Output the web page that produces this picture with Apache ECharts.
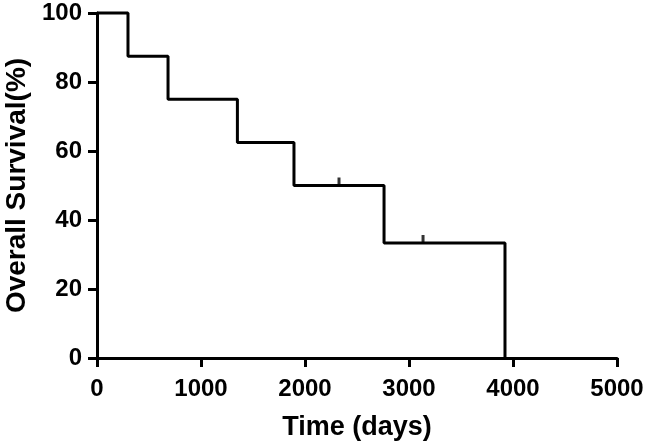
<!DOCTYPE html>
<html><head><meta charset="utf-8">
<script src="https://cdn.jsdelivr.net/npm/echarts@6/dist/echarts.min.js"></script>
<style>html,body{margin:0;padding:0;background:#fff}#c{width:646px;height:447px}</style>
</head><body><div id="c"></div>
<script>
// Kaplan-Meier step points: time (days) and survival (%) after each event
const eventTimes = [0, 298, 683, 1350, 1894, 2760, 3923];
const survival = [100, 87.5, 75, 62.5, 50, 33.33, 0];
// censored observations
const censorTimes = [2327, 3135];
const censorSurvival = [50, 33.33];
const xTicks = [0, 1000, 2000, 3000, 4000, 5000];
const yTicks = [0, 20, 40, 60, 80, 100];

const font = '"Liberation Sans", Arial, Helvetica, sans-serif';
const chart = echarts.init(document.getElementById('c'), null, {renderer: 'canvas'});
const axisCommon = {
  axisLine: {show: true, lineStyle: {color: '#000', width: 3}},
  axisTick: {show: true, length: 9, lineStyle: {color: '#000', width: 3}},
  splitLine: {show: false},
  nameTextStyle: {color: '#000', fontWeight: 'bold', fontFamily: font}
};
const labelStyle = {color: '#000', fontWeight: 'bold', fontSize: 24, fontFamily: font,
  formatter: v => String(v)};
chart.setOption({
  animation: false,
  backgroundColor: '#fff',
  grid: {left: 97, right: 29, top: 13, bottom: 89, containLabel: false, outerBoundsMode: 'none'},
  xAxis: Object.assign({}, axisCommon, {
    type: 'value', min: xTicks[0], max: xTicks[xTicks.length - 1], interval: 1000,
    name: 'Time (days)', nameLocation: 'middle', nameGap: 56,
    nameTextStyle: Object.assign({}, axisCommon.nameTextStyle, {fontSize: 27}),
    axisLabel: Object.assign({}, labelStyle, {margin: 19})
  }),
  yAxis: Object.assign({}, axisCommon, {
    type: 'value', min: yTicks[0], max: yTicks[yTicks.length - 1], interval: 20,
    name: 'Overall Survival(%)', nameLocation: 'middle', nameGap: 66,
    nameTextStyle: Object.assign({}, axisCommon.nameTextStyle, {fontSize: 28}),
    axisLabel: Object.assign({}, labelStyle, {margin: 15})
  }),
  series: [
    {
      type: 'line', step: 'end', clip: false, showSymbol: false, symbol: 'none',
      lineStyle: {color: '#000', width: 3},
      data: eventTimes.map((t, i) => [t, survival[i]])
    },
    {
      type: 'scatter', clip: false, symbol: 'rect', symbolSize: [3, 8], symbolOffset: [0, -4],
      itemStyle: {color: '#000'},
      data: censorTimes.map((t, i) => [t, censorSurvival[i]])
    }
  ]
});
</script></body></html>
